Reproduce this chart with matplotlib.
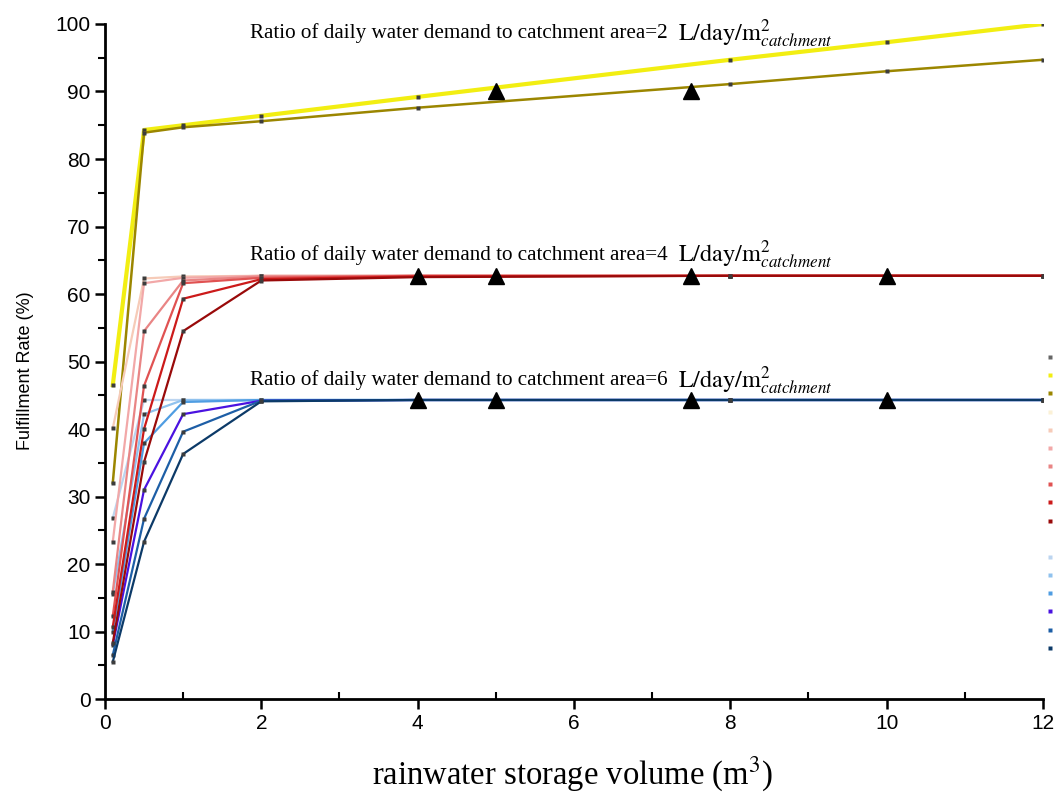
import numpy as np
import matplotlib.pyplot as plt
from matplotlib.lines import Line2D
from matplotlib.ticker import MultipleLocator

plt.rcParams['mathtext.fontset'] = 'stix'

# storage volumes (m3)
vol = [0.1, 0.5, 1, 2, 4, 8, 10, 12]

# 2 L/day/m2
yellow = [46.5, 84.3, 85.0, 86.4, 89.2, 94.7, 97.3, 100.0]
olive = [32.0, 83.9, 84.7, 85.6, 87.6, 91.1, 93.0, 94.7]

# 4 L/day/m2 (light -> dark)
red1 = [40.1, 62.3, 62.6, 62.7, 62.7, 62.7, 62.7, 62.7]
red2 = [23.3, 61.6, 62.4, 62.7, 62.7, 62.7, 62.7, 62.7]
red3 = [15.9, 54.5, 62.0, 62.6, 62.7, 62.7, 62.7, 62.7]
red4 = [12.3, 46.4, 61.6, 62.4, 62.7, 62.7, 62.7, 62.7]
red5 = [10.7, 40.0, 59.3, 62.2, 62.6, 62.7, 62.7, 62.7]
red6 = [8.3, 35.1, 54.5, 62.0, 62.5, 62.7, 62.7, 62.7]

# 6 L/day/m2 (light -> dark)
blue1 = [26.8, 44.3, 44.3, 44.3, 44.3, 44.3, 44.3, 44.3]
blue2 = [15.6, 42.2, 44.3, 44.3, 44.3, 44.3, 44.3, 44.3]
blue3 = [9.9, 37.9, 44.0, 44.3, 44.3, 44.3, 44.3, 44.3]
blue4 = [8.0, 31.0, 42.2, 44.2, 44.3, 44.3, 44.3, 44.3]
blue5 = [6.5, 26.7, 39.6, 44.2, 44.3, 44.3, 44.3, 44.3]
blue6 = [5.5, 23.3, 36.3, 44.1, 44.3, 44.3, 44.3, 44.3]

# marked points (triangles)
tri_x = [5, 7.5, 4, 5, 7.5, 10, 4, 5, 7.5, 10]
tri_y = [90.1, 90.1, 62.7, 62.7, 62.7, 62.7, 44.3, 44.3, 44.3, 44.3]

reds = [red1, red2, red3, red4, red5, red6]
red_cols = ['#f6cbb8', '#f2a8a8', '#e98585', '#e05252', '#cc1a1a', '#990a0a']
blues = [blue1, blue2, blue3, blue4, blue5, blue6]
blue_cols = ['#bcd5f0', '#90c2ee', '#4f9de2', '#4a12e0', '#1d5ea6', '#0c3a68']

ratios = [2, 4, 6]
lab_pos = [(1.85, 98.6), (1.85, 65.8), (1.85, 47.2)]

fig = plt.figure(figsize=(10.57, 7.92), dpi=100)
ax = fig.add_axes([0.0993, 0.1174, 0.8874, 0.8523])

mk = dict(marker='s', ms=3.5, mfc='#3c3c3c', mec='none')
ax.plot(vol, yellow, color='#f2ee12', lw=3, **mk)
ax.plot(vol, olive, color='#9b8600', lw=1.8, **mk)
for ys, c in zip(blues, blue_cols):
    ax.plot(vol, ys, color=c, lw=1.6, **mk)
for ys, c in zip(reds, red_cols):
    ax.plot(vol, ys, color=c, lw=1.6, **mk)
ax.plot(tri_x, tri_y, ls='none', marker='^', ms=12, color='black', zorder=5)

for r, (tx, ty) in zip(ratios, lab_pos):
    t = ax.text(tx, ty, 'Ratio of daily water demand to catchment area=%d' % r,
                fontsize=15.2, family='Liberation Serif', va='center')
    ax.annotate(r'$\mathrm{L/day/m}^{2}_{catchment}$', xy=(1, 0.5), xycoords=t,
                xytext=(8, 0), textcoords='offset points', va='center',
                fontsize=17.5)

ax.set_xlim(0, 12)
ax.set_ylim(0, 100)
ax.xaxis.set_major_locator(MultipleLocator(2))
ax.xaxis.set_minor_locator(MultipleLocator(1))
ax.yaxis.set_major_locator(MultipleLocator(10))
ax.yaxis.set_minor_locator(MultipleLocator(5))
ax.tick_params(which='major', length=7, width=1.8, labelsize=15)
ax.tick_params(which='minor', length=5, width=1.5)
ax.tick_params(axis='x', which='minor', direction='in')
for lbl in ax.get_xticklabels() + ax.get_yticklabels():
    lbl.set_family('Liberation Sans')

for s in ['top', 'right']:
    ax.spines[s].set_visible(False)
for s in ['left', 'bottom']:
    ax.spines[s].set_linewidth(2)

ax.set_ylabel('Fulfillment Rate (%)', fontsize=13, family='Liberation Sans')
ax.yaxis.set_label_coords(-0.076, 0.487)
ax.set_xlabel('rainwater storage volume (m$^3$)', fontsize=23.5,
              family='Liberation Serif')
ax.xaxis.set_label_coords(0.498, -0.083)

# legend cut off at the right edge, only the markers show
leg_cols = ['#666666', '#f2ee12', '#9b8600', '#fbf1d6'] + red_cols + ['white'] + blue_cols
handles = [Line2D([], [], ls='none', marker='s', ms=2.6, color=c, mec='none') for c in leg_cols]
fig.legend(handles, [''] * len(handles), loc='upper left',
           bbox_to_anchor=(1046 / 1057, 1 - 351 / 792), frameon=False,
           fontsize=10, labelspacing=0.3, handlelength=0.6, handletextpad=0,
           borderpad=0, borderaxespad=0)

fig.savefig('out.png', dpi=100)
